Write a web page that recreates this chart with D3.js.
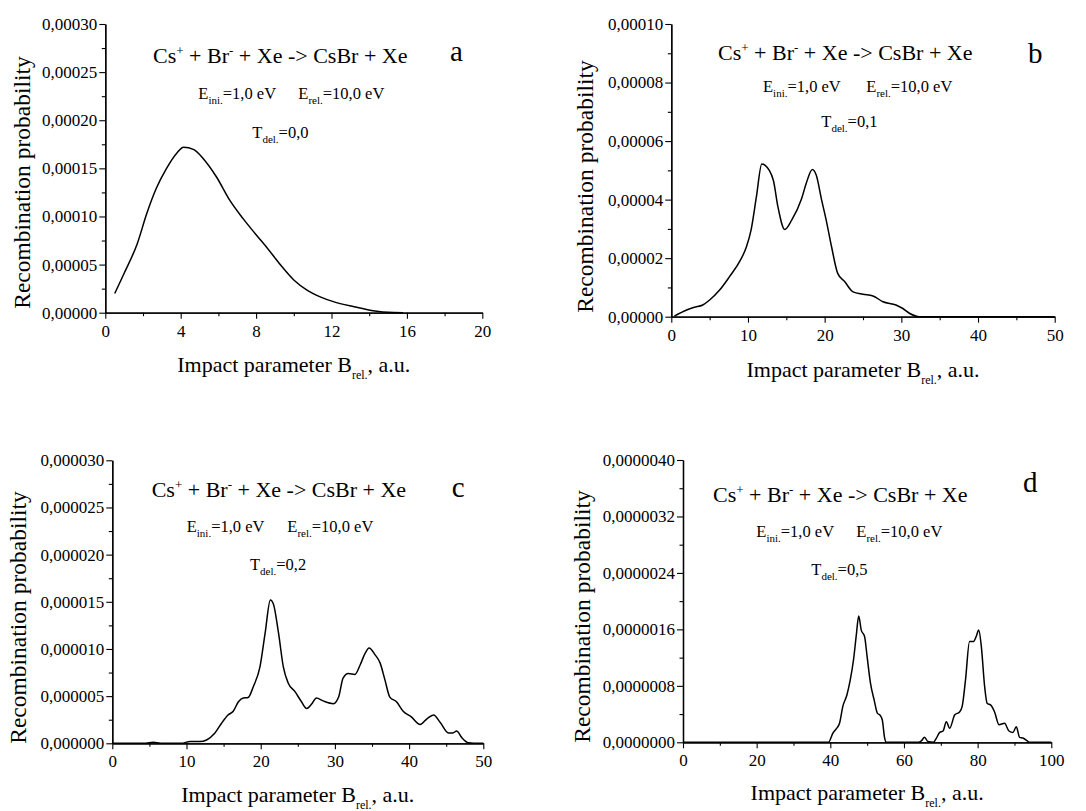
<!DOCTYPE html>
<html>
<head>
<meta charset="utf-8">
<script src="https://cdn.jsdelivr.net/npm/d3@7"></script>
<style>
  body { margin: 0; background: #fff; }
  svg { display: block; font-family: "Liberation Serif", "Times New Roman", serif; }
</style>
</head>
<body>
<div id="chart"></div>
<script>
// panel a : T_del = 0,0
var aX = [0.5, 1.0, 1.7, 2.2, 2.7, 3.25, 3.8, 4.15, 4.7, 5.2, 5.9, 6.6, 7.3, 8.0, 8.6, 9.3, 10.0, 10.7, 11.4, 12.1, 13.2, 14.2, 15.3, 15.8];
var aY = [2.0e-5, 4.1e-5, 7.2e-5, 10.3e-5, 12.9e-5, 15.0e-5, 16.6e-5, 17.2e-5, 16.95e-5, 16.0e-5, 14.1e-5, 11.7e-5, 9.8e-5, 8.1e-5, 6.7e-5, 4.95e-5, 3.4e-5, 2.35e-5, 1.65e-5, 1.15e-5, 0.62e-5, 0.21e-5, 0.02e-5, 0];

// panel b : T_del = 0,1
var bX = [0.4, 2.0, 3.0, 4.1, 5.0, 6.3, 7.6, 8.9, 9.8, 10.4, 11.1, 11.8, 12.2, 13.3, 13.9, 14.8, 15.7, 17.0, 17.6, 18.4, 18.9, 19.6, 20.2, 20.9, 21.7, 22.6, 23.7, 25.0, 26.3, 27.6, 29.3, 30.2, 31.1, 32.4, 40, 50];
var bY = [0.02e-5, 0.23e-5, 0.32e-5, 0.4e-5, 0.57e-5, 0.91e-5, 1.37e-5, 1.88e-5, 2.39e-5, 2.96e-5, 4.1e-5, 5.22e-5, 5.18e-5, 4.67e-5, 3.76e-5, 2.98e-5, 3.3e-5, 4.04e-5, 4.56e-5, 5.03e-5, 4.84e-5, 3.99e-5, 3.3e-5, 2.39e-5, 1.48e-5, 1.2e-5, 0.85e-5, 0.77e-5, 0.71e-5, 0.51e-5, 0.4e-5, 0.28e-5, 0.11e-5, 0, 0, 0];

// panel c : T_del = 0,2
var cX = [0, 4.5, 5.5, 6.5, 9.3, 10.5, 11.8, 12.7, 13.8, 14.7, 15.6, 16.3, 17.0, 17.65, 18.3, 19.0, 19.9, 20.6, 21.3, 21.7, 22.4, 23.05, 23.7, 24.6, 25.5, 26.2, 26.9, 27.5, 28.4, 29.8, 30.5, 31.1, 31.8, 32.7, 33.4, 34.05, 34.6, 35.4, 36.1, 36.75, 37.4, 38.3, 39.2, 40.3, 41.5, 42.4, 43.3, 44.2, 45.3, 45.9, 46.4, 47.1, 48.0, 48.7, 50];
var cY = [0, 0, 0.1e-6, 0, 0, 0.2e-6, 0.18e-6, 0.35e-6, 1.06e-6, 2.1e-6, 3.0e-6, 3.4e-6, 4.4e-6, 4.8e-6, 4.85e-6, 6.0e-6, 8.1e-6, 11.7e-6, 15.2e-6, 14.8e-6, 11.7e-6, 8.1e-6, 6.4e-6, 5.5e-6, 4.4e-6, 3.7e-6, 4.2e-6, 4.8e-6, 4.5e-6, 4.2e-6, 4.9e-6, 6.9e-6, 7.4e-6, 7.3e-6, 8.3e-6, 9.5e-6, 10.1e-6, 9.4e-6, 8.5e-6, 6.7e-6, 4.9e-6, 4.4e-6, 3.4e-6, 2.8e-6, 2.0e-6, 2.6e-6, 3.0e-6, 2.2e-6, 1.1e-6, 1.1e-6, 1.3e-6, 0.6e-6, 0.05e-6, 0, 0];

// panel d : T_del = 0,5
var dX = [0, 39.5, 40.7, 41.6, 42.5, 43.4, 44.5, 45.4, 46.3, 47.1, 47.7, 48.4, 49.3, 50.0, 50.9, 51.9, 52.8, 53.4, 54.1, 54.75, 55.2, 64.0, 64.7, 65.6, 66.5, 68.0, 68.8, 69.7, 70.6, 71.5, 72.4, 73.8, 75.1, 75.8, 76.7, 77.8, 78.9, 79.6, 80.3, 81.0, 81.9, 82.6, 83.5, 84.6, 85.8, 87.3, 88.5, 89.6, 90.5, 91.4, 92.3, 93.7, 94.0, 100];
var dY = [0, 0, 0.13e-6, 0.19e-6, 0.27e-6, 0.51e-6, 0.67e-6, 0.88e-6, 1.17e-6, 1.54e-6, 1.79e-6, 1.59e-6, 1.5e-6, 1.21e-6, 0.84e-6, 0.6e-6, 0.41e-6, 0.39e-6, 0.32e-6, 0.06e-6, 0, 0, 0.02e-6, 0.07e-6, 0.01e-6, 0, 0.06e-6, 0.14e-6, 0.16e-6, 0.29e-6, 0.2e-6, 0.39e-6, 0.43e-6, 0.51e-6, 0.88e-6, 1.43e-6, 1.43e-6, 1.5e-6, 1.59e-6, 1.36e-6, 0.79e-6, 0.55e-6, 0.53e-6, 0.43e-6, 0.25e-6, 0.27e-6, 0.16e-6, 0.14e-6, 0.22e-6, 0.07e-6, 0.06e-6, 0.01e-6, 0, 0];

// tick labels
var xTicksA = [0, 4, 8, 12, 16, 20];
var xTicksB = [0, 10, 20, 30, 40, 50];
var xTicksD = [0, 20, 40, 60, 80, 100];
var yTicksA = [0, 0.00005, 0.0001, 0.00015, 0.0002, 0.00025, 0.0003];
var yTicksB = [0, 0.00002, 0.00004, 0.00006, 0.00008, 0.0001];
var yTicksC = [0, 0.000005, 0.00001, 0.000015, 0.00002, 0.000025, 0.00003];
var yTicksD = [0, 0.0000008, 0.0000016, 0.0000024, 0.0000032, 0.000004];

var letters = ['a', 'b', 'c', 'd'];
var tdel = ['0,0', '0,1', '0,2', '0,5'];

var width = 1086, height = 811;
var svg = d3.select('#chart').append('svg').attr('width', width).attr('height', height);

// layout of each panel (pixel boxes + annotation spots)
var panels = [
  {x: aX, y: aY, xt: xTicksA, yt: yTicksA, dec: 5, box: {l: 105.3, r: 482.3, t: 24, b: 312.7},
   react: [153, 63.3], letter: [450, 60.5], e1: [198.3, 99], e2: [298.3, 99], t: [252.3, 138.3], ytl: 30, ytc: 182.5, xtl: 372.3},
  {x: bX, y: bY, xt: xTicksB, yt: yTicksB, dec: 5, box: {l: 671.3, r: 1054.7, t: 24, b: 316.7},
   react: [718, 60], letter: [1028, 62.7], e1: [763, 91.7], e2: [866.3, 91.7], t: [821.3, 126.7], ytl: 593, ytc: 186.5, xtl: 377},
  {x: cX, y: cY, xt: xTicksB, yt: yTicksC, dec: 6, box: {l: 112.3, r: 483.3, t: 460.3, b: 743.3},
   react: [151.7, 496.7], letter: [451.7, 497.3], e1: [186.7, 531.7], e2: [287.3, 531.7], t: [250, 570], ytl: 26, ytc: 617.5, xtl: 801.7},
  {x: dX, y: dY, xt: xTicksD, yt: yTicksD, dec: 7, box: {l: 683, r: 1051.3, t: 460, b: 742.3},
   react: [713, 502.3], letter: [1023, 492.3], e1: [756.3, 537.3], e2: [856.3, 537.3], t: [811.3, 575], ytl: 590, ytc: 616.5, xtl: 800}
];

// text with sub/superscripts: parts = [[text, shift, size]]
function rich(g, x, y, parts, size, anchor) {
  var t = g.append('text').attr('x', x).attr('y', y)
    .attr('font-size', size).attr('text-anchor', anchor || 'start').attr('fill', '#000');
  var cur = 0;
  parts.forEach(function(p) {
    var shift = p[1] || 0;
    t.append('tspan').attr('dy', shift - cur).attr('font-size', p[2] || size).text(p[0]);
    cur = shift;
  });
  return t;
}

panels.forEach(function(p, i) {
  var g = svg.append('g');
  var x = d3.scaleLinear().domain(d3.extent(p.xt)).range([p.box.l, p.box.r]);
  var y = d3.scaleLinear().domain(d3.extent(p.yt)).range([p.box.b, p.box.t]);
  var fmt = function(d) { return d.toFixed(p.dec).replace('.', ','); };
  var mids = function(arr) { return d3.pairs(arr).map(function(q) { return (q[0] + q[1]) / 2; }); };

  // minor ticks
  g.append('g').attr('transform', 'translate(' + p.box.l + ',0)')
    .call(d3.axisLeft(y).tickValues(mids(p.yt)).tickSize(3.5).tickSizeOuter(0).tickFormat(''));
  g.append('g').attr('transform', 'translate(0,' + p.box.b + ')')
    .call(d3.axisBottom(x).tickValues(mids(p.xt)).tickSize(3.5).tickSizeOuter(0).tickFormat(''));

  // major ticks
  var ya = g.append('g').attr('transform', 'translate(' + p.box.l + ',0)')
    .call(d3.axisLeft(y).tickValues(p.yt).tickSize(6).tickSizeOuter(0).tickPadding(2).tickFormat(fmt));
  var xa = g.append('g').attr('transform', 'translate(0,' + p.box.b + ')')
    .call(d3.axisBottom(x).tickValues(p.xt).tickSize(6).tickSizeOuter(0).tickPadding(6).tickFormat(d3.format('d')));

  g.selectAll('.domain').attr('stroke', '#000').attr('stroke-width', 1.3);
  g.selectAll('.tick line').attr('stroke', '#000').attr('stroke-width', 1.1);
  [ya, xa].forEach(function(a) {
    a.attr('font-family', null).attr('font-size', null);
    a.selectAll('text').attr('font-size', 17).attr('fill', '#000')
      .attr('font-family', '"Liberation Serif", "Times New Roman", serif');
  });

  // curve
  var pts = p.x.map(function(v, k) { return [v, p.y[k]]; });
  g.append('path').datum(pts)
    .attr('fill', 'none').attr('stroke', '#000').attr('stroke-width', 1.5)
    .attr('d', d3.line().x(function(d) { return x(d[0]); }).y(function(d) { return y(d[1]); }).curve(d3.curveMonotoneX));

  // annotations
  rich(g, p.react[0], p.react[1], [['Cs', 0], ['+', -8, 13], [' + Br', 0], ['-', -8, 13], [' + Xe -> CsBr + Xe', 0]], 22);
  g.append('text').attr('x', p.letter[0]).attr('y', p.letter[1]).attr('font-size', 29).text(letters[i]);
  rich(g, p.e1[0], p.e1[1], [['E', 0], ['ini.', 5, 11], ['=1,0 eV', 0]], 16.5);
  rich(g, p.e2[0], p.e2[1], [['E', 0], ['rel.', 5, 11], ['=10,0 eV', 0]], 16.5);
  rich(g, p.t[0], p.t[1], [['T', 0], ['del.', 5, 11], ['=' + tdel[i], 0]], 16.5);

  // axis titles
  g.append('text').attr('transform', 'translate(' + p.ytl + ',' + p.ytc + ') rotate(-90)')
    .attr('text-anchor', 'middle').attr('font-size', 23.5).text('Recombination probability');
  rich(g, (p.box.l + p.box.r) / 2, p.xtl, [['Impact parameter B', 0], ['rel.', 7, 12], [', a.u.', 0]], 22, 'middle');
});
</script>
</body>
</html>
